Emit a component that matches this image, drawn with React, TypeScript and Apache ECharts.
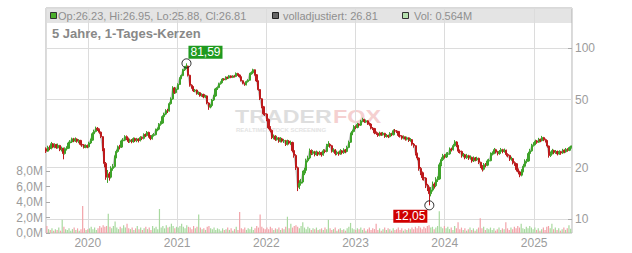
import { useEffect, useRef } from "react";
import * as echarts from "echarts";

// ---- time frame (weekly candles, one per week) ----
const START = Date.UTC(2019, 6, 15);
const WEEK = 7 * 24 * 3600 * 1000;
const YEAR_MS = 365 * 24 * 3600 * 1000;
const AXIS_MIN = Date.UTC(2019, 6, 14);
const AXIS_MAX = Date.UTC(2025, 5, 5);

// ---- price axis ----
const PRICE_MIN = 8.3;
const PRICE_MAX = 172;
const EXTRA_PRICE_LEVELS = [20, 50];

// ---- volume axis (million) ----
const VOL_MIN = 0;
const VOL_MAX = 8;
const VOL_STEP = 2;

// candles: [open, close, low, high]
const c2019 = [
  [25.8, 25.0, 24.4, 26.3], [25.0, 26.3, 24.8, 26.9], [26.3, 25.9, 25.3, 27.0], [25.9, 27.6, 25.6, 28.3],
  [27.6, 26.4, 26.0, 27.9], [26.4, 27.3, 26.0, 27.8], [27.3, 26.2, 25.8, 27.6], [26.2, 27.0, 25.9, 27.7],
  [27.0, 25.5, 25.0, 27.2], [25.5, 26.0, 24.9, 26.6], [26.0, 24.2, 22.4, 26.2], [24.2, 25.8, 23.9, 26.3],
  [25.8, 26.0, 25.2, 26.7], [26.0, 27.9, 25.8, 28.4], [27.9, 28.3, 27.3, 29.0], [28.3, 29.5, 27.9, 30.0],
  [29.5, 28.7, 28.2, 29.9], [28.7, 29.4, 28.3, 30.1], [29.4, 28.6, 28.0, 29.7], [28.6, 28.9, 27.8, 29.4],
  [28.9, 27.4, 27.0, 29.1], [27.4, 27.2, 26.5, 28.0], [27.2, 26.3, 25.9, 27.5], [26.3, 26.9, 26.0, 27.4],
  [26.9, 26.5, 26.0, 27.3],
];
const c2020 = [
  [26.5, 27.9, 26.2, 28.4], [27.9, 29.0, 27.5, 29.6], [29.0, 31.6, 28.8, 32.2], [31.6, 32.6, 31.0, 33.4],
  [32.6, 34.0, 32.2, 34.8], [34.0, 33.5, 32.8, 34.6], [33.5, 32.3, 31.6, 33.9], [32.3, 30.4, 29.8, 32.6],
  [30.4, 25.8, 25.0, 30.6], [25.8, 21.2, 20.1, 26.0], [21.2, 17.6, 17.0, 21.6], [17.6, 18.4, 16.3, 19.4],
  [18.4, 17.6, 16.8, 18.9], [17.6, 19.8, 17.3, 20.4], [19.8, 20.3, 19.2, 21.0], [20.3, 23.1, 20.0, 23.6],
  [23.1, 24.9, 22.7, 25.5], [24.9, 26.5, 24.5, 27.0], [26.5, 26.4, 25.6, 27.2], [26.4, 28.7, 26.1, 29.2],
  [28.7, 29.0, 28.1, 29.8], [29.0, 30.4, 28.6, 31.0], [30.4, 29.6, 29.0, 30.9], [29.6, 28.5, 27.9, 30.0],
  [28.5, 29.0, 28.0, 29.6], [29.0, 28.4, 27.8, 29.4], [28.4, 29.6, 28.0, 30.1], [29.6, 28.8, 28.3, 30.0],
  [28.8, 29.4, 28.2, 29.9], [29.4, 28.9, 28.1, 29.7], [28.9, 30.0, 28.5, 30.6], [30.0, 29.7, 29.0, 30.5],
  [29.7, 31.2, 29.3, 31.8], [31.2, 30.9, 30.2, 31.7], [30.9, 32.2, 30.5, 32.8], [32.2, 30.6, 30.0, 32.5],
  [30.6, 29.6, 29.0, 31.0], [29.6, 30.9, 29.2, 31.4], [30.9, 31.2, 30.4, 31.9], [31.2, 33.3, 30.9, 33.9],
  [33.3, 33.6, 32.7, 34.4], [33.6, 35.9, 33.2, 36.5], [35.9, 36.5, 35.2, 37.4], [36.5, 39.8, 36.1, 40.5],
  [39.8, 41.2, 39.0, 42.0], [41.2, 43.1, 40.6, 44.0], [43.1, 43.0, 41.8, 44.2], [43.0, 47.4, 42.6, 48.3],
  [47.4, 50.5, 46.8, 51.6], [50.5, 58.6, 50.0, 60.0], [58.6, 55.0, 54.0, 59.4], [55.0, 57.6, 54.4, 58.8],
];
const c2021 = [
  [57.6, 61.4, 57.0, 62.4], [61.4, 66.8, 60.9, 67.6], [66.8, 69.2, 65.9, 70.3], [69.2, 74.8, 68.6, 75.8],
  [74.8, 77.5, 73.6, 78.8], [77.5, 78.6, 75.8, 81.59], [78.6, 69.5, 68.4, 79.0], [69.5, 60.8, 59.6, 70.0],
  [60.8, 59.4, 58.0, 61.6], [59.4, 56.4, 55.5, 60.0], [56.4, 56.9, 55.3, 57.8], [56.9, 54.2, 53.5, 57.4],
  [54.2, 55.0, 53.3, 55.9], [55.0, 52.8, 52.1, 55.5], [52.8, 53.7, 52.0, 54.5], [53.7, 51.9, 51.0, 54.2],
  [51.9, 52.6, 51.2, 53.4], [52.6, 47.8, 47.0, 53.0], [47.8, 45.3, 43.6, 48.3], [45.3, 46.2, 44.5, 47.0],
  [46.2, 49.8, 45.8, 50.5], [49.8, 52.6, 49.2, 53.4], [52.6, 57.8, 52.0, 58.6], [57.8, 58.9, 57.0, 59.8],
  [58.9, 62.0, 58.3, 62.9], [62.0, 63.1, 61.2, 64.0], [63.1, 66.0, 62.5, 66.9], [66.0, 65.5, 64.6, 66.8],
  [65.5, 67.6, 65.0, 68.5], [67.6, 67.0, 66.0, 68.2], [67.0, 68.9, 66.4, 69.8], [68.9, 67.5, 66.8, 69.4],
  [67.5, 68.6, 66.9, 69.5], [68.6, 68.3, 67.4, 69.6], [68.3, 71.2, 67.8, 72.2], [71.2, 69.8, 69.0, 71.8],
  [69.8, 68.2, 67.4, 70.3], [68.2, 64.6, 63.9, 68.6], [64.6, 62.4, 61.5, 65.0], [62.4, 61.2, 60.3, 63.0],
  [61.2, 63.8, 60.6, 64.6], [63.8, 65.0, 63.0, 65.9], [65.0, 70.9, 64.5, 71.8], [70.9, 72.0, 70.0, 73.2],
  [72.0, 74.8, 71.3, 75.9], [74.8, 70.0, 69.2, 75.2], [70.0, 64.4, 63.5, 70.5], [64.4, 57.3, 56.4, 64.8],
  [57.3, 50.6, 49.8, 57.8], [50.6, 45.5, 44.6, 51.0], [45.5, 41.4, 40.6, 46.0], [41.4, 41.2, 40.1, 42.5],
];
const c2022 = [
  [41.2, 38.3, 37.4, 41.6], [38.3, 34.2, 33.6, 38.8], [34.2, 33.1, 32.2, 35.0], [33.1, 30.0, 29.4, 33.5],
  [30.0, 30.6, 29.3, 31.3], [30.6, 29.3, 28.7, 31.0], [29.3, 29.9, 28.8, 30.6], [29.9, 28.6, 28.0, 30.2],
  [28.6, 29.5, 28.1, 30.2], [29.5, 28.7, 28.1, 29.9], [28.7, 28.8, 27.9, 29.5], [28.8, 27.4, 26.8, 29.1],
  [27.4, 28.6, 27.0, 29.2], [28.6, 27.9, 27.3, 29.0], [27.9, 28.1, 27.2, 28.8], [28.1, 25.2, 24.6, 28.4],
  [25.2, 23.6, 22.9, 25.6], [23.6, 20.0, 19.4, 24.0], [20.0, 15.4, 14.6, 20.3], [15.4, 16.2, 15.0, 16.9],
  [16.2, 16.5, 15.7, 17.2], [16.5, 18.6, 16.2, 19.2], [18.6, 19.3, 18.1, 20.0], [19.3, 22.0, 19.0, 22.6],
  [22.0, 22.8, 21.5, 23.5], [22.8, 25.2, 22.4, 25.9], [25.2, 24.3, 23.7, 25.6], [24.3, 24.8, 23.8, 25.4],
  [24.8, 23.9, 23.3, 25.1], [23.9, 24.6, 23.5, 25.2], [24.6, 24.0, 23.4, 24.9], [24.0, 24.5, 23.6, 25.1],
  [24.5, 23.8, 23.2, 24.8], [23.8, 25.1, 23.5, 25.7], [25.1, 24.9, 24.3, 25.6], [24.9, 27.0, 24.6, 27.6],
  [27.0, 27.4, 26.5, 28.6], [27.4, 26.9, 26.2, 27.8], [26.9, 25.0, 24.5, 27.2], [25.0, 25.4, 24.5, 26.0],
  [25.4, 24.2, 23.6, 25.7], [24.2, 24.6, 23.7, 25.2], [24.6, 24.1, 23.5, 24.9], [24.1, 25.1, 23.8, 25.7],
  [25.1, 24.5, 23.9, 25.4], [24.5, 25.4, 24.1, 26.0], [25.4, 24.9, 24.3, 25.7], [24.9, 26.3, 24.6, 26.9],
  [26.3, 28.2, 26.0, 28.8], [28.2, 31.5, 27.9, 32.1], [31.5, 32.6, 31.0, 33.4], [32.6, 34.8, 32.2, 35.5],
];
const c2023 = [
  [34.8, 34.4, 33.6, 35.4], [34.4, 35.9, 34.0, 36.6], [35.9, 35.5, 34.8, 36.4], [35.5, 37.4, 35.1, 38.1],
  [37.4, 38.3, 36.9, 39.2], [38.3, 37.2, 36.6, 38.7], [37.2, 37.6, 36.6, 38.3], [37.6, 36.2, 35.6, 37.9],
  [36.2, 36.0, 35.2, 36.8], [36.0, 34.1, 33.5, 36.3], [34.1, 33.9, 33.2, 34.6], [33.9, 32.0, 31.4, 34.2],
  [32.0, 31.8, 31.1, 32.6], [31.8, 30.9, 30.3, 32.2], [30.9, 31.9, 30.5, 32.5], [31.9, 31.3, 30.7, 32.2],
  [31.3, 31.8, 30.8, 32.4], [31.8, 30.5, 29.9, 32.0], [30.5, 30.9, 30.0, 31.5], [30.9, 30.4, 29.8, 31.2],
  [30.4, 31.7, 30.1, 32.3], [31.7, 31.2, 30.6, 32.0], [31.2, 32.9, 30.9, 33.5], [32.9, 32.8, 32.0, 33.7],
  [32.8, 32.6, 31.9, 33.2], [32.6, 30.9, 30.3, 32.8], [30.9, 30.7, 30.0, 31.4], [30.7, 29.8, 29.2, 31.0],
  [29.8, 30.3, 29.3, 30.9], [30.3, 29.4, 28.8, 30.5], [29.4, 29.9, 28.9, 30.4], [29.9, 28.9, 28.3, 30.1],
  [28.9, 29.2, 28.4, 29.8], [29.2, 27.5, 26.9, 29.4], [27.5, 26.9, 26.2, 27.9], [26.9, 24.2, 23.6, 27.1],
  [24.2, 22.8, 22.1, 24.5], [22.8, 19.8, 19.2, 23.0], [19.8, 18.7, 18.1, 20.2], [18.7, 17.5, 16.9, 19.0],
  [17.5, 17.4, 16.8, 18.0], [17.4, 15.8, 15.2, 17.6], [15.8, 15.3, 14.6, 16.1], [15.3, 14.1, 12.05, 15.5],
  [14.1, 14.8, 13.6, 15.4], [14.8, 16.0, 14.5, 16.6], [16.0, 15.7, 15.1, 16.4], [15.7, 17.0, 15.4, 17.6],
  [17.0, 17.2, 16.5, 17.8], [17.2, 20.8, 17.0, 21.4], [20.8, 22.3, 20.4, 23.0], [22.3, 23.5, 21.9, 24.1],
];
const c2024 = [
  [23.5, 23.1, 22.6, 24.0], [23.1, 24.0, 22.8, 24.6], [24.0, 24.1, 23.5, 24.7], [24.1, 25.7, 23.8, 26.3],
  [25.7, 25.5, 24.9, 26.2], [25.5, 26.9, 25.2, 27.5], [26.9, 28.3, 26.6, 29.0], [28.3, 27.0, 26.4, 28.6],
  [27.0, 25.0, 24.4, 27.2], [25.0, 24.9, 24.2, 25.6], [24.9, 23.5, 22.9, 25.2], [23.5, 23.8, 23.0, 24.4],
  [23.8, 22.9, 22.4, 24.1], [22.9, 23.5, 22.5, 24.1], [23.5, 22.8, 22.2, 23.8], [22.8, 23.0, 22.3, 23.6],
  [23.0, 21.9, 21.4, 23.2], [21.9, 22.8, 21.6, 23.3], [22.8, 22.3, 21.8, 23.1], [22.3, 22.7, 21.9, 23.2],
  [22.7, 21.5, 21.0, 22.9], [21.5, 20.4, 19.9, 21.7], [20.4, 19.6, 19.0, 20.7], [19.6, 20.8, 19.3, 21.3],
  [20.8, 20.7, 20.1, 21.3], [20.7, 21.9, 20.4, 22.4], [21.9, 22.0, 21.4, 22.6], [22.0, 24.0, 21.8, 24.6],
  [24.0, 24.3, 23.6, 24.9], [24.3, 25.5, 24.0, 26.1], [25.5, 24.8, 24.2, 25.8], [24.8, 24.2, 23.6, 25.1],
  [24.2, 24.9, 23.8, 25.4], [24.9, 25.5, 24.5, 26.1], [25.5, 24.9, 24.3, 25.8], [24.9, 25.3, 24.5, 25.9],
  [25.3, 23.9, 23.3, 25.5], [23.9, 23.6, 23.0, 24.3], [23.6, 22.5, 21.9, 23.8], [22.5, 22.6, 22.0, 23.2],
  [22.6, 21.4, 20.9, 22.8], [21.4, 21.1, 20.5, 21.8], [21.1, 19.5, 19.0, 21.3], [19.5, 18.9, 18.3, 19.8],
  [18.9, 18.1, 17.6, 19.2], [18.1, 19.1, 17.8, 19.6], [19.1, 20.4, 18.8, 21.0], [20.4, 21.8, 20.1, 22.4],
  [21.8, 21.9, 21.2, 22.5], [21.9, 24.2, 21.7, 24.8], [24.2, 25.1, 23.8, 25.8], [25.1, 27.0, 24.8, 27.6],
];
const c2025 = [
  [27.0, 27.5, 26.6, 28.2], [27.5, 28.6, 27.1, 29.2], [28.6, 28.2, 27.6, 29.0], [28.2, 29.3, 27.9, 29.9],
  [29.3, 28.8, 28.2, 29.6], [28.8, 30.0, 28.5, 30.7], [30.0, 29.2, 28.6, 30.3], [29.2, 28.8, 28.1, 29.6],
  [28.8, 26.8, 26.2, 29.0], [26.8, 23.6, 22.9, 27.0], [23.6, 24.3, 23.1, 24.9], [24.3, 25.2, 23.9, 25.8],
  [25.2, 24.6, 24.0, 25.5], [24.6, 24.9, 24.1, 25.4], [24.9, 24.1, 23.6, 25.2], [24.1, 24.8, 23.8, 25.3],
  [24.8, 24.4, 23.8, 25.1], [24.4, 25.3, 24.1, 25.8], [25.3, 24.8, 24.3, 25.6], [24.8, 25.6, 24.5, 26.1],
  [25.6, 25.3, 24.8, 26.0], [25.3, 26.23, 25.0, 26.6], [26.23, 26.81, 25.88, 26.95],
];

// volume in million shares, one per candle
const v2019 = [0.9, 0.5, 0.4, 0.6, 0.3, 0.5, 0.4, 0.7, 0.3, 1.7, 0.8, 0.5, 0.4, 0.6, 0.3, 0.5, 0.7, 0.4, 0.6, 0.3, 0.5, 3.5, 0.6, 0.4, 0.5];
const v2020 = [0.6, 0.8, 0.5, 0.7, 0.4, 0.6, 0.9, 0.7, 1.0, 0.8, 0.9, 2.5, 0.8, 0.6, 0.9, 1.5, 0.7, 0.5, 0.8, 0.6, 1.0, 0.7, 1.2, 0.6, 0.5, 0.7, 0.4, 0.6, 0.9, 0.5, 0.7, 0.4, 0.6, 0.8, 0.5, 0.7, 0.4, 0.9, 0.6, 0.8, 0.5, 3.1, 0.7, 0.9, 0.6, 1.0, 0.7, 0.8, 1.2, 0.9, 0.6, 0.8];
const v2021 = [0.7, 0.9, 1.2, 0.8, 0.6, 1.0, 0.8, 0.7, 0.5, 0.9, 0.6, 0.8, 2.4, 0.7, 0.5, 0.6, 0.4, 0.8, 0.9, 0.6, 0.5, 0.7, 0.4, 0.6, 0.5, 0.3, 0.6, 0.4, 0.5, 0.7, 0.4, 0.6, 0.3, 0.5, 0.8, 0.4, 2.7, 0.6, 0.5, 0.7, 0.4, 0.6, 0.5, 0.8, 0.4, 0.6, 0.9, 0.7, 2.4, 0.8, 0.6, 0.5];
const v2022 = [0.7, 0.5, 0.8, 0.6, 0.4, 0.6, 0.5, 0.7, 0.4, 0.6, 0.5, 0.8, 2.1, 0.6, 1.2, 0.7, 0.9, 1.0, 0.8, 0.6, 0.9, 1.4, 0.7, 0.5, 0.8, 0.6, 0.4, 0.6, 0.5, 0.7, 0.4, 0.5, 0.6, 0.4, 0.7, 0.5, 1.7, 0.6, 0.4, 0.5, 0.7, 0.3, 0.5, 0.6, 0.4, 0.5, 0.3, 0.6, 0.8, 1.3, 0.6, 0.5];
const v2023 = [0.4, 0.6, 0.5, 0.7, 0.4, 0.6, 0.3, 0.5, 0.7, 0.4, 0.6, 0.5, 1.2, 0.4, 0.6, 0.3, 0.5, 0.7, 0.4, 0.6, 0.5, 0.3, 0.6, 0.4, 0.5, 0.7, 0.4, 0.6, 0.3, 0.5, 0.4, 0.6, 0.5, 0.7, 0.5, 0.8, 0.6, 0.9, 0.7, 0.5, 0.8, 0.6, 0.9, 1.0, 0.7, 0.8, 0.5, 0.7, 0.9, 2.8, 0.8, 0.6];
const v2024 = [0.9, 0.6, 0.8, 0.5, 0.7, 0.4, 0.9, 0.6, 1.4, 0.5, 0.7, 0.4, 0.6, 0.3, 0.5, 0.7, 0.4, 0.6, 0.3, 0.5, 0.7, 1.9, 0.6, 0.8, 0.4, 0.6, 0.5, 0.7, 0.4, 0.6, 0.3, 0.5, 0.7, 0.4, 0.6, 0.5, 1.4, 0.6, 0.4, 0.7, 0.5, 0.8, 0.6, 0.9, 0.7, 1.2, 0.6, 0.5, 0.8, 0.6, 0.9, 0.7];
const v2025 = [0.5, 0.7, 0.4, 0.6, 0.3, 0.5, 0.7, 0.4, 0.8, 0.9, 0.6, 1.2, 0.5, 0.7, 0.4, 0.6, 0.3, 0.5, 0.7, 0.4, 0.6, 1.0, 0.564];

const TITLE = "5 Jahre, 1-Tages-Kerzen";

const UP = "#3ea32a";
const DOWN = "#bd1a1c";
const VOL_UP = "#a8d99f";
const VOL_DOWN = "#f2a3a9";
const GRID_LINE = "#dcdcdc";
const LABEL = "#9c9c9c";
const FONT = "'Liberation Sans', Arial, sans-serif";

const comma = (v: number, d: number) => v.toFixed(d).replace(".", ",");

export default function App() {
  const ref = useRef<HTMLDivElement>(null);

  useEffect(() => {
    if (!ref.current) return;
    const chart = echarts.init(ref.current, null, { renderer: "svg" });

    const candles = [...c2019, ...c2020, ...c2021, ...c2022, ...c2023, ...c2024, ...c2025];
    const volumes = [...v2019, ...v2020, ...v2021, ...v2022, ...v2023, ...v2024, ...v2025];
    const dates = candles.map((_, i) => START + i * WEEK);

    const candleData = candles.map((c, i) => [dates[i], c[0], c[1], c[2], c[3]]);
    const closeData = candles.map((c, i) => [dates[i], c[1]]);
    const volData = volumes.map((v, i) => ({
      value: [dates[i], v],
      itemStyle: { color: candles[i][1] >= candles[i][0] ? VOL_UP : VOL_DOWN },
    }));

    let hiIdx = 0;
    let loIdx = 0;
    candles.forEach((c, i) => {
      if (c[3] > candles[hiIdx][3]) hiIdx = i;
      if (c[2] < candles[loIdx][2]) loIdx = i;
    });
    const hi = candles[hiIdx][3];
    const lo = candles[loIdx][2];
    const last = candles[candles.length - 1];
    const lastVol = volumes[volumes.length - 1];

    const legendY = 16;
    const option: any = {
      animation: false,
      textStyle: { fontFamily: FONT },
      grid: [
        { left: 46, right: 60, top: 8, bottom: 20, show: true, borderColor: "#b3b3b3", borderWidth: 1 },
        { left: 46, right: 60, top: 171, bottom: 20 },
      ],
      xAxis: [
        {
          type: "time",
          gridIndex: 0,
          min: AXIS_MIN,
          max: AXIS_MAX,
          minInterval: YEAR_MS,
          maxInterval: YEAR_MS + 24 * 3600 * 1000,
          axisLine: { show: false },
          axisTick: { show: false },
          axisLabel: {
            formatter: (v: number) => String(new Date(v).getUTCFullYear()),
            color: LABEL,
            fontSize: 12,
            margin: 4,
            fontFamily: FONT,
            showMinLabel: false,
            showMaxLabel: false,
          },
          splitLine: { show: true, lineStyle: { color: GRID_LINE, width: 1 } },
        },
        { type: "time", gridIndex: 1, min: AXIS_MIN, max: AXIS_MAX, show: false },
      ],
      yAxis: [
        {
          type: "log",
          logBase: 10,
          gridIndex: 0,
          position: "right",
          min: PRICE_MIN,
          max: PRICE_MAX,
          axisLine: { show: false },
          axisTick: { show: true, inside: true, length: 4, lineStyle: { color: "#aaaaaa" } },
          axisLabel: { color: LABEL, fontSize: 12, margin: 3, showMinLabel: false, showMaxLabel: false, fontFamily: FONT },
          splitLine: { show: true, lineStyle: { color: GRID_LINE, width: 1 } },
        },
        {
          type: "value",
          gridIndex: 1,
          position: "left",
          min: VOL_MIN,
          max: VOL_MAX,
          interval: VOL_STEP,
          axisLine: { show: false },
          axisTick: { show: true, inside: true, length: 4, lineStyle: { color: "#aaaaaa" } },
          axisLabel: { color: LABEL, fontSize: 12, margin: 3, formatter: (v: number) => comma(v, 1) + "M", fontFamily: FONT },
          splitLine: { show: false },
        },
      ],
      series: [
        {
          type: "bar",
          name: "Vol",
          xAxisIndex: 1,
          yAxisIndex: 1,
          barWidth: 1.2,
          data: volData,
          z: 1,
        },
        {
          type: "line",
          name: "volladjustiert",
          xAxisIndex: 0,
          yAxisIndex: 0,
          data: closeData,
          showSymbol: false,
          symbol: "none",
          lineStyle: { color: "#c2c2c2", width: 1.5 },
          z: 2,
          markLine: {
            silent: true,
            symbol: "none",
            z: 1,
            lineStyle: { color: GRID_LINE, width: 1, type: "solid" },
            label: { show: true, position: "end", formatter: "{c}", color: LABEL, fontSize: 12, distance: 3, fontFamily: FONT },
            data: EXTRA_PRICE_LEVELS.map((v) => ({ yAxis: v })),
          },
        },
        {
          type: "candlestick",
          name: "Kurs",
          xAxisIndex: 0,
          yAxisIndex: 0,
          barWidth: 1.7,
          data: candleData,
          z: 3,
          itemStyle: { color: UP, color0: DOWN, borderColor: UP, borderColor0: DOWN, borderWidth: 1 },
          markPoint: {
            symbol: "circle",
            symbolSize: 9,
            z: 6,
            itemStyle: { color: "rgba(255,255,255,0)", borderColor: "#222", borderWidth: 1 },
            label: {
              show: true,
              position: "inside",
              color: "#ffffff",
              fontSize: 12,
              fontFamily: FONT,
              padding: [1, 2, 0, 2],
              lineHeight: 12,
            },
            data: [
              {
                coord: [dates[hiIdx], hi],
                value: hi,
                label: { formatter: comma(hi, 2), backgroundColor: "#1f9a1f", offset: [19, -11] },
              },
              {
                coord: [dates[loIdx], lo],
                value: lo,
                label: { formatter: comma(lo, 2), backgroundColor: "#d00000", offset: [-19, 11] },
              },
            ],
          },
        },
      ],
      graphic: [
        { type: "rect", z: -1, silent: true, shape: { x: 46, y: 8, width: 526, height: 15 }, style: { fill: "#e4e4e4" } },
        {
          type: "text", z: 0, silent: true, x: 235, y: 117, scaleX: 1.29,
          style: { text: "TRADER", fill: "#dedede", fontSize: 18, fontWeight: "bold", fontFamily: FONT, verticalAlign: "middle" },
        },
        {
          type: "text", z: 0, silent: true, x: 333, y: 117, scaleX: 1.3,
          style: { text: "FOX", fill: "#f5d0d0", fontSize: 18, fontWeight: "bold", fontFamily: FONT, verticalAlign: "middle" },
        },
        {
          type: "text", z: 0, silent: true, x: 236, y: 130,
          style: { text: "REALTIME STOCK SCREENING", fill: "#e3e3e3", fontSize: 6, fontWeight: "bold", fontFamily: FONT, verticalAlign: "middle" },
        },
        { type: "rect", z: 5, shape: { x: 50.5, y: 12.5, width: 6, height: 6 }, style: { fill: "#4caf2c", stroke: "#333", lineWidth: 1 } },
        {
          type: "text", z: 5, x: 58, y: legendY,
          style: {
            text: `Op:${last[0].toFixed(2)}, Hi:${last[3].toFixed(2)}, Lo:${last[2].toFixed(2)}, Cl:${last[1].toFixed(2)}`,
            fill: "#8f8f8f", fontSize: 11, fontFamily: FONT, verticalAlign: "middle",
          },
        },
        { type: "rect", z: 5, shape: { x: 272.5, y: 12.5, width: 6, height: 6 }, style: { fill: "#666666", stroke: "#222", lineWidth: 1 } },
        {
          type: "text", z: 5, x: 283, y: legendY,
          style: { text: `volladjustiert: ${last[1].toFixed(2)}`, fill: "#8f8f8f", fontSize: 11, fontFamily: FONT, verticalAlign: "middle" },
        },
        { type: "rect", z: 5, shape: { x: 402.5, y: 12.5, width: 6, height: 6 }, style: { fill: "#b6e0ae", stroke: "#333", lineWidth: 1 } },
        {
          type: "text", z: 5, x: 414, y: legendY,
          style: { text: `Vol: ${lastVol.toFixed(3)}M`, fill: "#8f8f8f", fontSize: 11, fontFamily: FONT, verticalAlign: "middle" },
        },
        {
          type: "text", z: 5, x: 52, y: 33,
          style: { text: TITLE, fill: "#888888", fontSize: 13, fontWeight: "bold", fontFamily: FONT, verticalAlign: "middle" },
        },
      ],
    };

    chart.setOption(option);
    return () => chart.dispose();
  }, []);

  return (
    <div
      ref={ref}
      style={{ position: "absolute", left: 0, top: 0, width: 632, height: 253, background: "#ffffff" }}
    />
  );
}
